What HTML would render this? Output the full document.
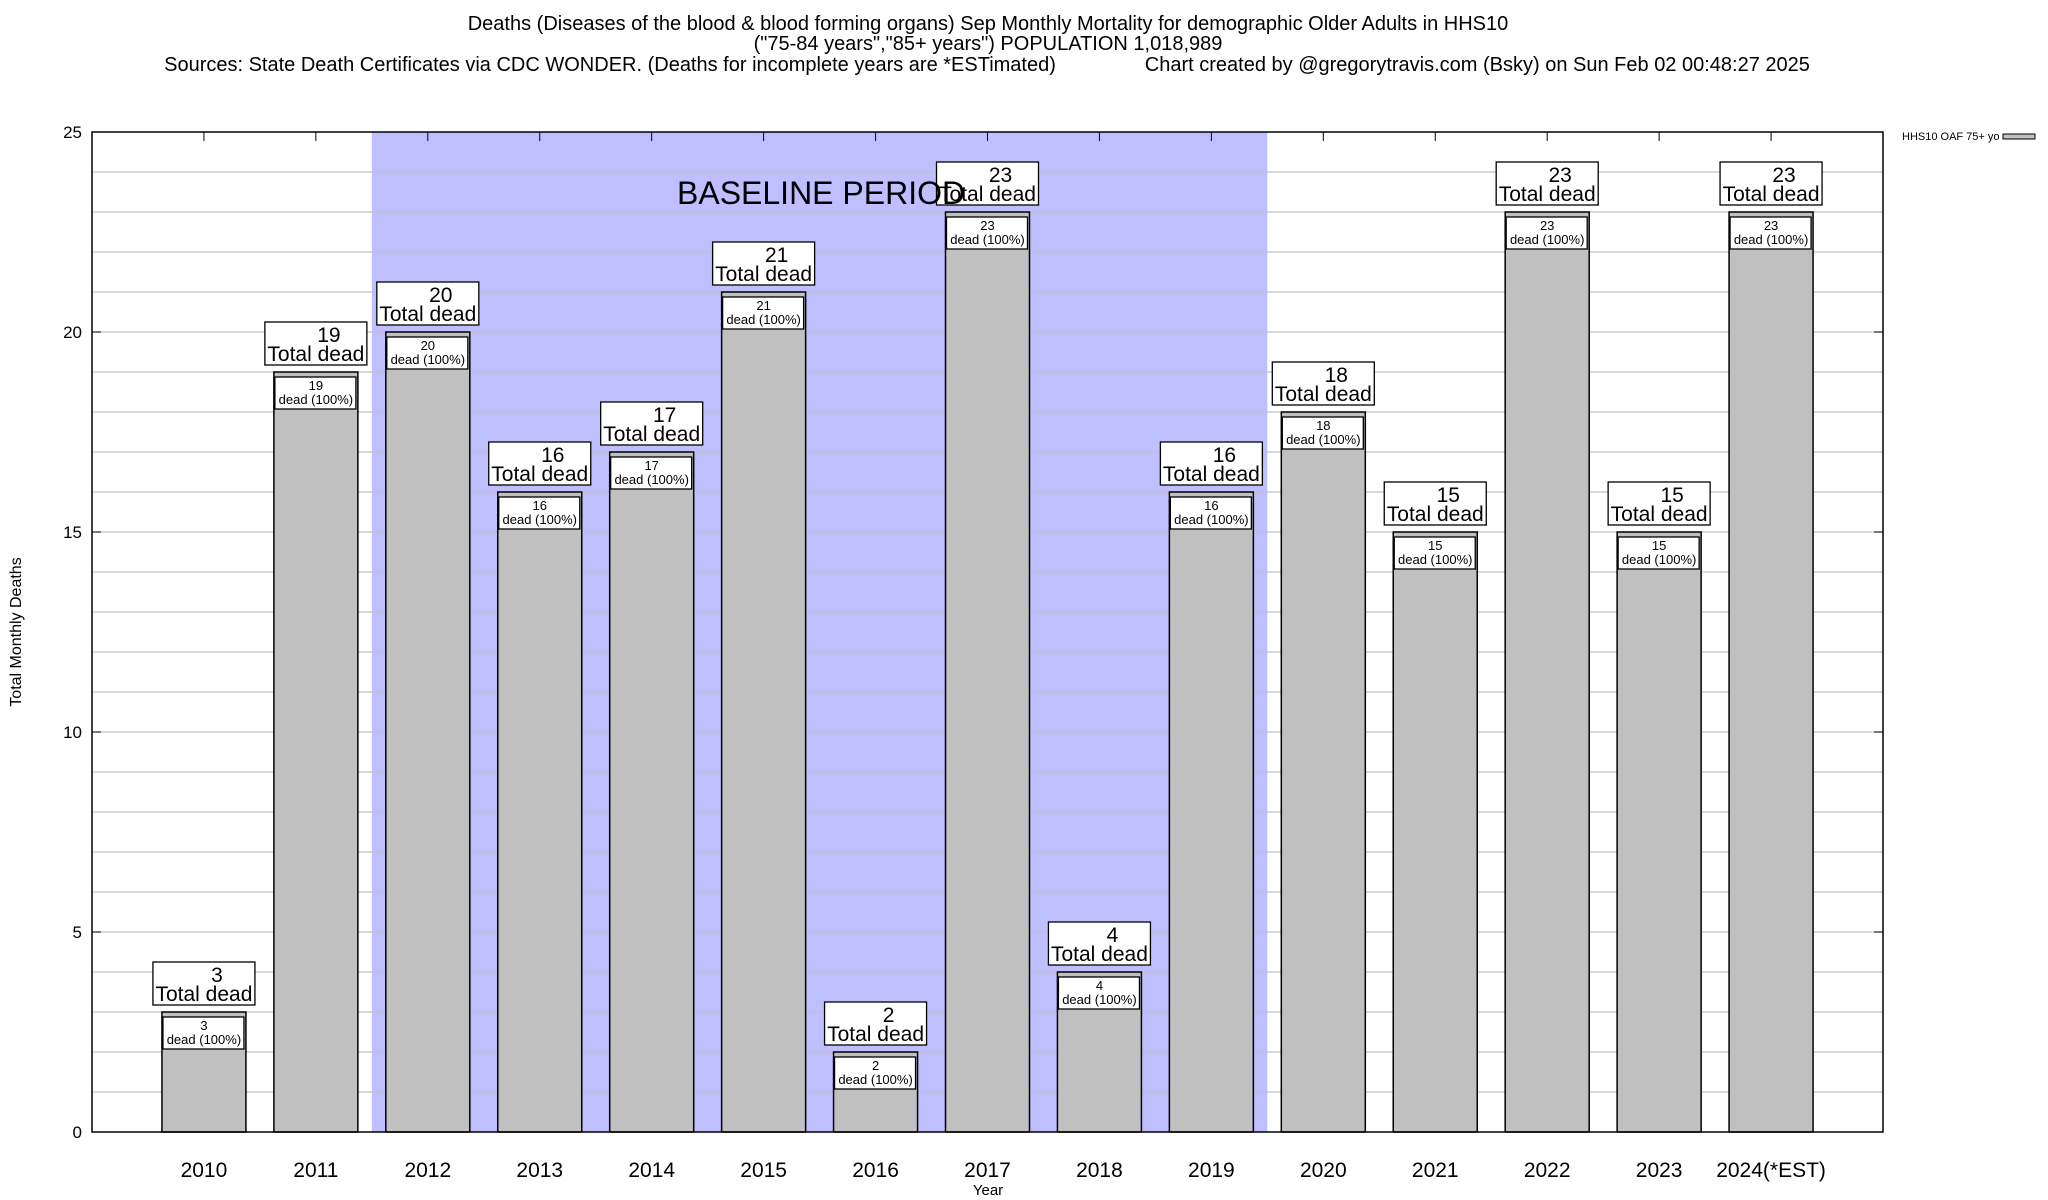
<!DOCTYPE html>
<html><head><meta charset="utf-8"><style>
body{margin:0;background:#fff}
svg{display:block;font-family:"Liberation Sans",Arial,sans-serif}
</style></head><body>
<svg id="chart" width="2048" height="1200" viewBox="0 0 2048 1200" xmlns="http://www.w3.org/2000/svg">
<g font-size="20" text-anchor="middle" fill="#000">
<text x="988" y="30">Deaths (Diseases of the blood &amp; blood forming organs) Sep Monthly Mortality for demographic Older Adults in HHS10</text>
<text x="988" y="50">("75-84 years","85+ years") POPULATION 1,018,989</text>
<text x="987" y="71" xml:space="preserve">Sources: State Death Certificates via CDC WONDER. (Deaths for incomplete years are *ESTimated)                Chart created by @gregorytravis.com (Bsky) on Sun Feb 02 00:48:27 2025</text>
</g>
<g id="shade"></g>
<g id="grid"></g>
<g id="bars"></g>
<g id="labels"></g>
<text x="677" y="204" font-size="32">BASELINE PERIOD</text>
<rect x="92" y="132" width="1791" height="1000" fill="none" stroke="#000" stroke-width="1.5"/>
<g id="axes"></g>
<text transform="translate(21,632) rotate(-90)" text-anchor="middle" font-size="16">Total Monthly Deaths</text>
<text x="988" y="1195" text-anchor="middle" font-size="15">Year</text>
<g>
<text x="1902" y="140" font-size="11">HHS10 OAF 75+ yo</text>
<rect x="2003" y="134" width="32" height="5" fill="#c0c0c0" stroke="#000" stroke-width="1"/>
</g>
</svg>
<script>
const categories=["2010","2011","2012","2013","2014","2015","2016","2017","2018","2019","2020","2021","2022","2023","2024(*EST)"];
const deaths=[3,19,20,16,17,21,2,23,4,16,18,15,23,15,23];
const yTicks=[0,5,10,15,20,25];
const baselineStart=2, baselineEnd=9;
const NS="http://www.w3.org/2000/svg";
const L=92,R=1883,T=132,B=1132,yMax=25;
const slot=(R-L)/(categories.length+1);
const xc=i=>L+slot*(i+1);
const y=v=>B-(B-T)*v/yMax;
function mk(tag,attrs,parent,txt){const e=document.createElementNS(NS,tag);for(const k in attrs)e.setAttribute(k,attrs[k]);if(txt!==undefined)e.textContent=txt;document.getElementById(parent).appendChild(e);return e;}
let e=mk('rect',{x:xc(baselineStart)-slot/2,y:T,width:slot*(baselineEnd-baselineStart+1),height:B-T,fill:'#bfbfff'},'shade');


for(let v=1;v<yMax;v++){
 e=mk('line',{x1:L,x2:R,y1:y(v),y2:y(v),stroke:'#c0c0c0','stroke-width':1.3},'grid');
 
 
}
yTicks.forEach(v=>{
 e=mk('text',{x:82,y:y(v)+6,'text-anchor':'end','font-size':17},'axes',String(v));
 
 
 e=mk('line',{x1:L,x2:L+9,y1:y(v),y2:y(v),stroke:'#000'},'axes');
 
 
 e=mk('line',{x1:R-9,x2:R,y1:y(v),y2:y(v),stroke:'#000'},'axes');
 
 
});
categories.forEach((c,i)=>{
 const cx=xc(i),v=deaths[i],top=y(v);
 e=mk('line',{x1:cx,x2:cx,y1:T,y2:T+9,stroke:'#000'},'axes');
 
 
 e=mk('text',{x:cx,y:1177,'text-anchor':'middle','font-size':21},'axes',c);
 
 
 e=mk('rect',{x:cx-42,y:top,width:84,height:B-top,fill:'#c0c0c0',stroke:'#000','stroke-width':1.5},'bars');
 
 
 e=mk('rect',{x:cx-51,y:top-50,width:102,height:43,fill:'#fff',stroke:'#000','stroke-width':1.3},'labels');
 
 
 e=mk('text',{x:cx+13,y:top-30,'text-anchor':'middle','font-size':21},'labels',String(v));
 
 
 e=mk('text',{x:cx,y:top-11,'text-anchor':'middle','font-size':21},'labels','Total dead');
 
 
 e=mk('rect',{x:cx-41,y:top+5,width:81,height:32,fill:'#fff',stroke:'#000','stroke-width':1.3},'labels');
 
 
 e=mk('text',{x:cx,y:top+18,'text-anchor':'middle','font-size':13},'labels',String(v));
 
 
 e=mk('text',{x:cx,y:top+32,'text-anchor':'middle','font-size':13},'labels','dead (100%)');
 
 
});
</script>
</body></html>
